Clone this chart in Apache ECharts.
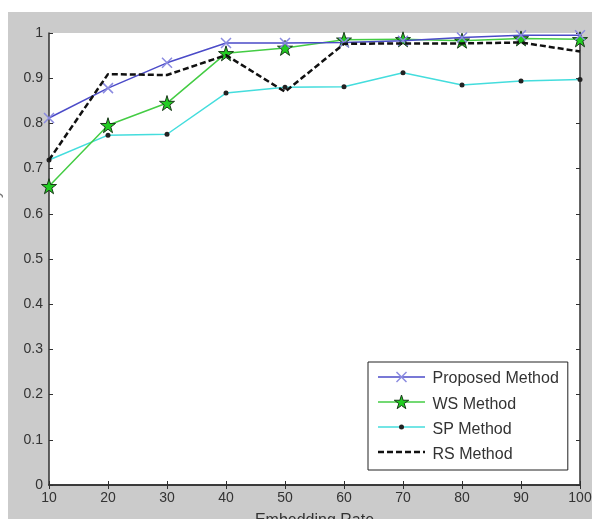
<!DOCTYPE html>
<html>
<head>
<meta charset="utf-8">
<script src="https://cdn.jsdelivr.net/npm/echarts@6/dist/echarts.min.js"></script>
<style>html,body{margin:0;padding:0;background:#fff}#c{width:592px;height:519px}</style>
</head>
<body>
<div id="c"></div>
<script>
var rates = [10, 20, 30, 40, 50, 60, 70, 80, 90, 100];
var proposed = [0.812, 0.878, 0.934, 0.978, 0.978, 0.979, 0.983, 0.990, 0.995, 0.995];
var wsMethod = [0.661, 0.796, 0.845, 0.955, 0.967, 0.985, 0.986, 0.983, 0.988, 0.986];
var spMethod = [0.719, 0.774, 0.776, 0.867, 0.880, 0.881, 0.912, 0.885, 0.894, 0.897];
var rsMethod = [0.719, 0.909, 0.907, 0.951, 0.870, 0.976, 0.977, 0.977, 0.979, 0.959];
var seriesNames = ['Proposed Method', 'WS Method', 'SP Method', 'RS Method'];
var yTicks = [0, 0.1, 0.2, 0.3, 0.4, 0.5, 0.6, 0.7, 0.8, 0.9, 1];

function pairs(arr) { return rates.map(function (r, i) { return [r, arr[i]]; }); }

var FONT = 'Liberation Sans';
var crossPath = 'path://M0,0L10,10M10,0L0,10';
var starPts = [[50,0],[61,35],[98,35],[68,57],[79,91],[50,70],[21,91],[32,57],[2,35],[39,35]];
var starPath = 'path://M' + starPts.map(function (p) { return p.join(','); }).join('L') + 'Z';

var C_PROP = '#4b4bc8', C_PROP_M = '#8a8ae0', C_WS = '#44cc44', C_WS_M = '#22cc22',
    C_SP = '#44dddd', C_RS = '#111';

// legend geometry
var LX = 368, LY = 362, PADT = 7, PADL = 10, IW = 47, IH = 14, ROWH = 16, GAP = 9;
function rowY(i) { return LY + PADT + ROWH / 2 + i * (ROWH + GAP); }
var x0 = LX + PADL, x1 = LX + PADL + IW, xm = (x0 + x1) / 2;
var starLegend = starPts.map(function (p) { return [xm - 7.5 + p[0] * 0.15, rowY(1) - 7 + p[1] * 0.15]; });

var legendGraphics = [
  {type: 'line', z: 100, shape: {x1: x0, y1: rowY(0), x2: x1, y2: rowY(0)}, style: {stroke: C_PROP, lineWidth: 1.5}},
  {type: 'line', z: 101, shape: {x1: xm - 5, y1: rowY(0) - 5, x2: xm + 5, y2: rowY(0) + 5}, style: {stroke: C_PROP_M, lineWidth: 1.5}},
  {type: 'line', z: 101, shape: {x1: xm + 5, y1: rowY(0) - 5, x2: xm - 5, y2: rowY(0) + 5}, style: {stroke: C_PROP_M, lineWidth: 1.5}},
  {type: 'line', z: 100, shape: {x1: x0, y1: rowY(1), x2: x1, y2: rowY(1)}, style: {stroke: C_WS, lineWidth: 1.5}},
  {type: 'polygon', z: 101, shape: {points: starLegend}, style: {fill: C_WS_M, stroke: '#1a3a1a', lineWidth: 1}},
  {type: 'line', z: 100, shape: {x1: x0, y1: rowY(2), x2: x1, y2: rowY(2)}, style: {stroke: C_SP, lineWidth: 1.5}},
  {type: 'circle', z: 101, shape: {cx: xm, cy: rowY(2), r: 2.5}, style: {fill: '#222'}},
  {type: 'line', z: 100, shape: {x1: x0, y1: rowY(3), x2: x1, y2: rowY(3)}, style: {stroke: C_RS, lineWidth: 2.5, lineDash: [6, 3]}}
];

var chart = echarts.init(document.getElementById('c'), null, {renderer: 'canvas'});
var axisLine = {show: true, lineStyle: {color: '#303030', width: 1.5}};
var tick = {show: true, inside: true, length: 4, lineStyle: {color: '#303030', width: 1}};
chart.setOption({
  backgroundColor: '#ffffff',
  animation: false,
  graphic: [{
    type: 'rect', z: -100, silent: true,
    shape: {x: 8, y: 12, width: 584, height: 507},
    style: {fill: '#cbcbcb'}
  }].concat(legendGraphics),
  grid: {left: 49, top: 33, right: 12, bottom: 34, containLabel: false, outerBoundsMode: 'none',
    show: true, backgroundColor: '#ffffff', borderWidth: 0},
  legend: {
    orient: 'vertical', left: LX, top: LY,
    padding: [PADT, 9, PADT, PADL], itemGap: GAP, itemWidth: IW, itemHeight: IH,
    backgroundColor: '#ffffff', borderColor: '#222', borderWidth: 1,
    textStyle: {fontFamily: FONT, fontSize: 16, color: '#333'},
    data: seriesNames.map(function (n) { return {name: n, icon: 'rect', itemStyle: {opacity: 0}}; })
  },
  xAxis: [{
    type: 'value', min: 10, max: 100, interval: 10, position: 'bottom',
    name: 'Embedding Rate', nameLocation: 'middle', nameGap: 28,
    nameTextStyle: {fontFamily: FONT, fontSize: 16, color: '#333'},
    axisLine: axisLine, axisTick: tick, splitLine: {show: false},
    axisLabel: {fontFamily: FONT, fontSize: 14, color: '#333', margin: 6}
  }, {
    type: 'value', min: 10, max: 100, interval: 10, position: 'top',
    axisLine: axisLine, axisTick: tick, splitLine: {show: false}, axisLabel: {show: false}
  }],
  yAxis: [{
    type: 'value', min: 0, max: 1, interval: 0.1, position: 'left',
    name: 'Detection Accuracy', nameLocation: 'middle', nameGap: 45,
    nameTextStyle: {fontFamily: FONT, fontSize: 16, color: '#777'},
    axisLine: axisLine, axisTick: tick, splitLine: {show: false},
    axisLabel: {fontFamily: FONT, fontSize: 14, color: '#333', margin: 6,
      formatter: function (v) {
        var best = yTicks.reduce(function (a, b) { return Math.abs(b - v) < Math.abs(a - v) ? b : a; });
        return String(best);
      }}
  }, {
    type: 'value', min: 0, max: 1, interval: 0.1, position: 'right',
    axisLine: axisLine, axisTick: tick, splitLine: {show: false}, axisLabel: {show: false}
  }],
  series: [{
    name: seriesNames[0], type: 'line', data: pairs(proposed),
    symbol: crossPath, symbolSize: 10,
    lineStyle: {color: C_PROP, width: 1.5},
    itemStyle: {color: 'none', borderColor: C_PROP_M, borderWidth: 1.5}, z: 5
  }, {
    name: seriesNames[1], type: 'line', data: pairs(wsMethod),
    symbol: starPath, symbolSize: 15,
    lineStyle: {color: C_WS, width: 1.5},
    itemStyle: {color: C_WS_M, borderColor: '#1a3a1a', borderWidth: 1}, z: 4
  }, {
    name: seriesNames[2], type: 'line', data: pairs(spMethod),
    symbol: 'circle', symbolSize: 5,
    lineStyle: {color: C_SP, width: 1.5},
    itemStyle: {color: '#222', borderWidth: 0}, z: 3
  }, {
    name: seriesNames[3], type: 'line', data: pairs(rsMethod),
    symbol: 'none', showSymbol: false,
    lineStyle: {color: C_RS, width: 2.5, type: [6, 3]},
    itemStyle: {color: C_RS}, z: 6
  }]
});
</script>
</body>
</html>
